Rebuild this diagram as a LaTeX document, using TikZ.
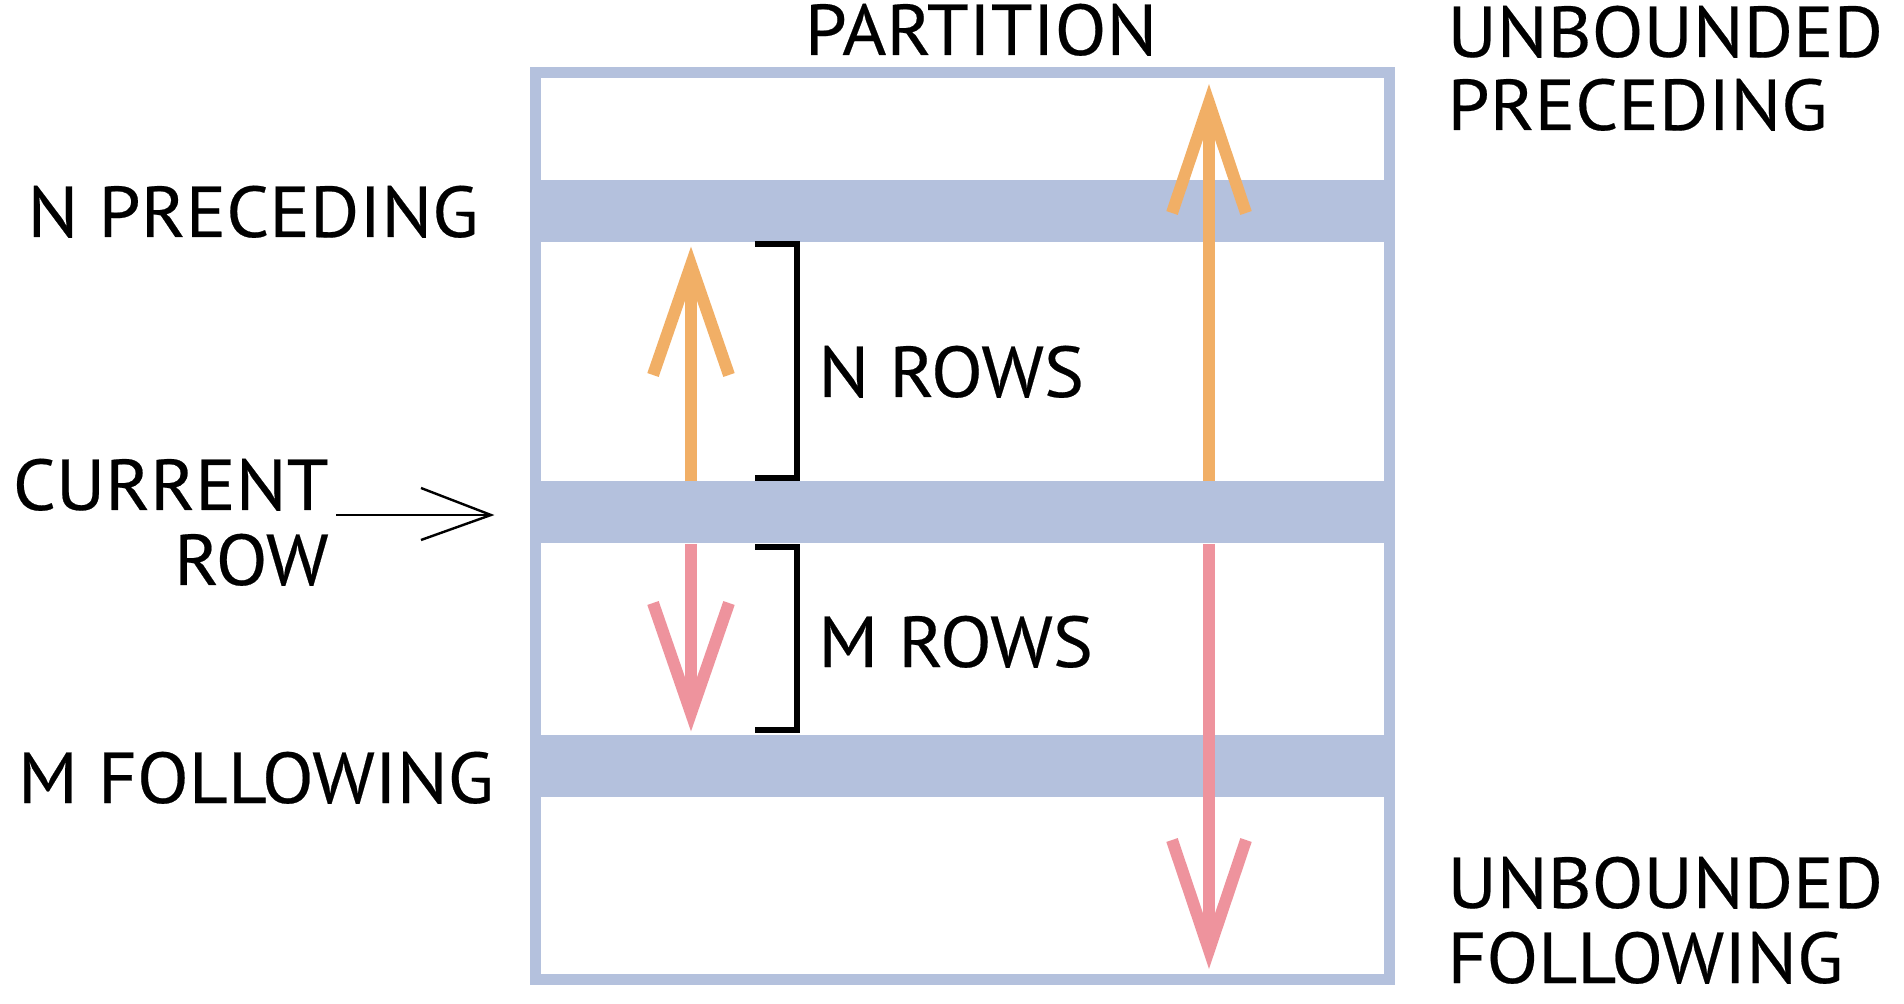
\documentclass[tikz,border=0pt]{standalone}
\usepackage{fontspec}
\setmainfont{PT Sans}[FakeStretch=1.05,FakeBold=0.3]
\usetikzlibrary{calc}
\definecolor{bandblue}{RGB}{180,193,221}
\definecolor{arrorange}{RGB}{241,175,102}
\definecolor{arrpink}{RGB}{238,147,157}
\begin{document}
\begin{tikzpicture}[x=0.5pt,y=-0.5pt,
  lbl/.style={font=\fontsize{36}{36.5}\selectfont, inner sep=0pt, text=black},
  band/.style={fill=bandblue, draw=none, inner sep=0pt, minimum width=432.5pt, minimum height=31pt},
  partbox/.style={draw=bandblue, line width=5.5pt, inner sep=0pt, minimum width=427pt, minimum height=453.5pt},
  shaft/.style={line width=6pt},
  head/.style={line width=6pt, line join=miter, miter limit=10},
  brk/.style={line width=2.8pt, line join=miter},
  ptr/.style={line width=1.2pt},
]
\fill[white] (0,0) rectangle (1904,1004);
\useasboundingbox (0,0) rectangle (1904,1004);

% partition box and row bands
\node[partbox] (part) at (962.5,526) {};
\node[band] (bandN) at (962.5,211) {};
\node[band] (bandC) at (962.5,512.5) {};
\node[band] (bandM) at (962.5,766) {};

% arrow columns
\coordinate (xl) at (691,0);
\coordinate (xr) at (1209,0);

% small orange arrow (N preceding)
\coordinate (t1) at (691,265);
\draw[shaft, arrorange] (bandC.north -| xl) -- (t1);
\draw[head, arrorange] ($(t1)+(-38,110)$) -- (t1) -- ($(t1)+(38,110)$);

% small pink arrow (M following)
\coordinate (t2) at (691,713);
\draw[shaft, arrpink] (bandC.south -| xl) -- (t2);
\draw[head, arrpink] ($(t2)+(-38,-110)$) -- (t2) -- ($(t2)+(38,-110)$);

% big orange arrow (unbounded preceding)
\coordinate (t3) at (1209,103);
\draw[shaft, arrorange] (bandC.north -| xr) -- (t3);
\draw[head, arrorange] ($(t3)+(-37,110)$) -- (t3) -- ($(t3)+(37,110)$);

% big pink arrow (unbounded following)
\coordinate (t4) at (1209,950);
\draw[shaft, arrpink] (bandC.south -| xr) -- (t4);
\draw[head, arrpink] ($(t4)+(-37,-110)$) -- (t4) -- ($(t4)+(37,-110)$);

% brackets
\coordinate (b1a) at (755,244);
\coordinate (b1b) at (797,244);
\coordinate (b1c) at (797,478);
\coordinate (b1d) at (755,478);
\draw[brk] (b1a) -- (b1b) -- (b1c) -- (b1d);
\coordinate (b2a) at (755,547);
\coordinate (b2b) at (797,547);
\coordinate (b2c) at (797,730);
\coordinate (b2d) at (755,730);
\draw[brk] (b2a) -- (b2b) -- (b2c) -- (b2d);

% labels
\node[lbl, anchor=base] (partlbl) at (981,55) {PARTITION};
\node[lbl, anchor=base west] (ub1) at (1447,57) {UNBOUNDED};
\node[lbl, anchor=base west] (ub2) at (1447,130) {PRECEDING};
\node[lbl, anchor=base west] (uf1) at (1447,908) {UNBOUNDED};
\node[lbl, anchor=base west] (uf2) at (1447,983) {FOLLOWING};
\node[lbl, anchor=base] (npre) at (253,237) {N PRECEDING};
\node[lbl, anchor=base] (mfol) at (256,803) {M FOLLOWING};
\node[lbl, anchor=base east] (cur) at (329,510) {CURRENT};
\node[lbl, anchor=base east] (row) at (329,585) {ROW};
\node[lbl, anchor=base west] (nrows) at (818,397) {N ROWS};
\node[lbl, anchor=base west] (mrows) at (818,667) {M ROWS};

% current row pointer
\coordinate (ps) at (336,515);
\coordinate (pt) at (491,515);
\draw[ptr] (ps) -- (pt);
\draw[ptr] ($(pt)+(-70,-27)$) -- (pt) -- ($(pt)+(-70,25)$);
\end{tikzpicture}
\end{document}
